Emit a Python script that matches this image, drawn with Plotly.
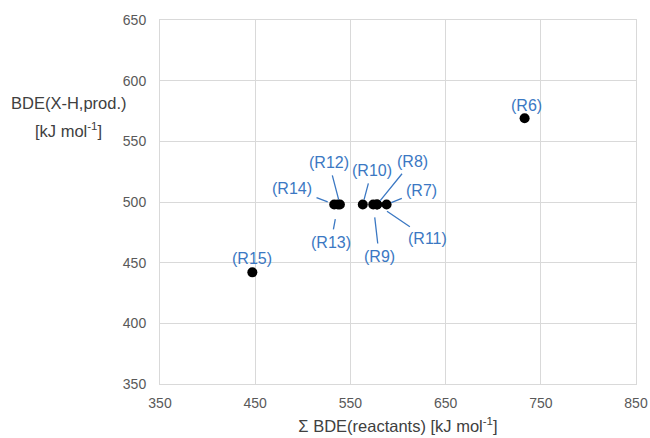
import plotly.graph_objects as go

# Data
labels = ["(R6)", "(R7)", "(R8)", "(R9)", "(R10)", "(R11)", "(R12)", "(R13)", "(R14)", "(R15)"]
sum_bde_reactants = [733, 588, 578, 574, 563, 578, 539, 537, 533, 447]
bde_xh_prod = [569, 498, 498, 498, 498, 498, 498, 498, 498, 442]

x_ticks = [350, 450, 550, 650, 750, 850]
y_ticks = [350, 400, 450, 500, 550, 600, 650]

# label placement (pixel offsets from point), arrow flag, standoff
label_style = {
    "(R6)":  dict(ax=2,   ay=-13, arrow=False, so=0),
    "(R7)":  dict(ax=35,  ay=-14, arrow=True, so=5),
    "(R8)":  dict(ax=35,  ay=-43, arrow=True, so=5),
    "(R9)":  dict(ax=6,   ay=52,  arrow=True, so=13),
    "(R10)": dict(ax=9,   ay=-34, arrow=True, so=5),
    "(R11)": dict(ax=50,  ay=34,  arrow=True, so=12),
    "(R12)": dict(ax=-11, ay=-42, arrow=True, so=5),
    "(R13)": dict(ax=-7,  ay=38,  arrow=True, so=15),
    "(R14)": dict(ax=-42, ay=-16, arrow=True, so=7),
    "(R15)": dict(ax=0,   ay=-14, arrow=False, so=0),
}

BLUE = "#3b78c3"
GRID = "#d9d9d9"
TICK = "#595959"
TITLE = "#404040"
FONT = "Liberation Sans, Arial, sans-serif"

W, H = 650, 438
ML, MR, MT, MB = 159.5, 14, 20, 54

fig = go.Figure()
fig.add_trace(go.Scatter(
    x=sum_bde_reactants, y=bde_xh_prod, mode="markers",
    marker=dict(color="black", size=10),
    hoverinfo="skip", showlegend=False,
))

annotations = []
for lab, xv, yv in zip(labels, sum_bde_reactants, bde_xh_prod):
    st = label_style[lab]
    if st["arrow"]:
        annotations.append(dict(
            x=xv, y=yv, xref="x", yref="y", text=lab, showarrow=True,
            ax=st["ax"], ay=st["ay"], axref="pixel", ayref="pixel",
            arrowhead=0, arrowwidth=1.3, arrowcolor=BLUE,
            standoff=st["so"], startstandoff=3,
            font=dict(family=FONT, size=16, color=BLUE),
        ))
    else:
        annotations.append(dict(
            x=xv, y=yv, xref="x", yref="y", text=lab, showarrow=False,
            xshift=st["ax"], yshift=-st["ay"],
            xanchor="center", yanchor="middle",
            font=dict(family=FONT, size=16, color=BLUE),
        ))

pw = W - ML - MR
ph = H - MT - MB
def px_to_paper(px, py):
    return (px - ML) / pw, (H - MB - py) / ph

# y-axis title (horizontal, two lines)
fx1, fy1 = px_to_paper(68, 103)
fx2, fy2 = px_to_paper(68, 130)
annotations.append(dict(
    x=fx1, y=fy1, xref="paper", yref="paper", text="BDE(X-H,prod.)",
    showarrow=False, xanchor="center", yanchor="middle",
    font=dict(family=FONT, size=16.5, color=TITLE),
))
annotations.append(dict(
    x=fx2, y=fy2, xref="paper", yref="paper", text="[kJ mol<sup>-1</sup>]",
    showarrow=False, xanchor="center", yanchor="middle",
    font=dict(family=FONT, size=16.5, color=TITLE),
))

fig.update_layout(
    width=W, height=H,
    margin=dict(l=ML, r=MR, t=MT, b=MB, autoexpand=False),
    paper_bgcolor="white", plot_bgcolor="white",
    font=dict(family=FONT, size=14, color=TICK),
    showlegend=False,
    annotations=annotations,
    xaxis=dict(
        range=[350, 850], tickvals=x_ticks, ticktext=[str(v) for v in x_ticks],
        showgrid=True, gridcolor=GRID, gridwidth=1,
        showline=True, linecolor=GRID, linewidth=1, mirror=True,
        zeroline=False, ticks="", ticklabelstandoff=6, automargin=False,
        tickfont=dict(family=FONT, size=14, color=TICK),
        title=dict(text="\u03a3 BDE(reactants) [kJ mol<sup>-1</sup>]",
                   font=dict(family=FONT, size=16.5, color=TITLE), standoff=10),
    ),
    yaxis=dict(
        range=[350, 650], tickvals=y_ticks, ticktext=[str(v) for v in y_ticks],
        showgrid=True, gridcolor=GRID, gridwidth=1,
        showline=True, linecolor=GRID, linewidth=1, mirror=True,
        zeroline=False, ticks="", ticklabelstandoff=10, automargin=False,
        tickfont=dict(family=FONT, size=14, color=TICK),
    ),
)

fig.write_html(
    "out.html",
    config={"displayModeBar": False},
    post_script="document.body.style.margin='0px';document.body.style.overflow='hidden';",
)
